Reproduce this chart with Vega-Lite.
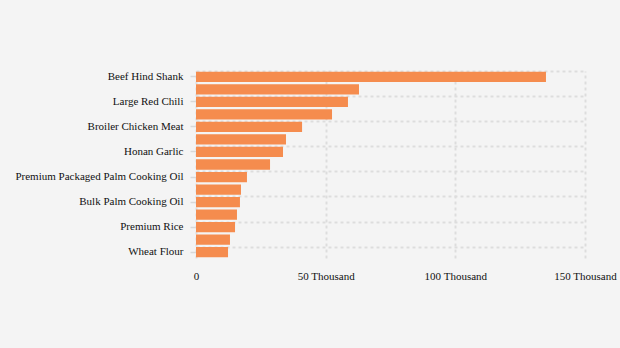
{
  "$schema": "https://vega.github.io/schema/vega-lite/v6.json",
  "autosize": "none",
  "width": 389,
  "height": 187,
  "padding": {"left": 196, "top": 71, "right": 35, "bottom": 90},
  "background": "#f4f4f4",
  "config": {
    "view": {"stroke": null},
    "font": "Liberation Serif",
    "axis": {"labelFont": "Liberation Serif", "labelFontSize": 11, "labelColor": "#111111"}
  },
  "data": {
    "values": [
      {"commodity": "Beef Hind Shank", "price": 134950},
      {"commodity": "Red Cayenne Pepper", "price": 62850},
      {"commodity": "Large Red Chili", "price": 58600},
      {"commodity": "Curly Red Chili", "price": 52450},
      {"commodity": "Broiler Chicken Meat", "price": 40900},
      {"commodity": "Shallot", "price": 34700},
      {"commodity": "Honan Garlic", "price": 33550},
      {"commodity": "Broiler Chicken Egg", "price": 28550},
      {"commodity": "Premium Packaged Palm Cooking Oil", "price": 19650},
      {"commodity": "Simple Packaged Palm Cooking Oil", "price": 17350},
      {"commodity": "Bulk Palm Cooking Oil", "price": 16950},
      {"commodity": "Granulated Sugar", "price": 15800},
      {"commodity": "Premium Rice", "price": 15050},
      {"commodity": "Medium Rice", "price": 13100},
      {"commodity": "Wheat Flour", "price": 12350}
    ]
  },
  "encoding": {
    "x": {
      "field": "price",
      "type": "quantitative",
      "title": null,
      "scale": {"domain": [0, 150000], "nice": false},
      "axis": {
        "values": [0, 50000, 100000, 150000],
        "labelExpr": "datum.value == 0 ? '0' : (datum.value / 1000) + ' Thousand'",
        "domain": false,
        "ticks": false,
        "labelPadding": 12,
        "labelFlush": false,
        "grid": true,
        "gridColor": "#dddddd",
        "gridDash": [3, 3],
        "gridWidth": 2
      }
    }
  },
  "layer": [
    {
      "mark": {"type": "bar", "color": "#f58c4e"},
      "encoding": {
        "y": {
          "field": "commodity",
          "type": "nominal",
          "sort": null,
          "title": null,
          "scale": {"paddingInner": 0.18, "paddingOuter": 0.05},
          "axis": {
            "orient": "left",
            "values": ["Beef Hind Shank", "Large Red Chili", "Broiler Chicken Meat", "Honan Garlic", "Premium Packaged Palm Cooking Oil", "Bulk Palm Cooking Oil", "Premium Rice", "Wheat Flour"],
            "grid": false,
            "domain": false,
            "ticks": true,
            "tickColor": "#d8d8d8",
            "tickSize": 6,
            "tickWidth": 1.5,
            "labelPadding": 7
          }
        }
      }
    },
    {
      "mark": {"type": "bar", "opacity": 0},
      "encoding": {
        "y": {
          "field": "commodity",
          "type": "nominal",
          "sort": null,
          "title": null,
          "axis": {
            "orient": "left",
            "values": ["Beef Hind Shank", "Large Red Chili", "Broiler Chicken Meat", "Honan Garlic", "Premium Packaged Palm Cooking Oil", "Bulk Palm Cooking Oil", "Premium Rice", "Wheat Flour"],
            "bandPosition": 0,
            "grid": true,
            "gridColor": "#dddddd",
            "gridDash": [3, 3],
            "gridWidth": 2,
            "labels": false,
            "ticks": false,
            "domain": false
          }
        }
      }
    }
  ],
  "resolve": {"axis": {"y": "independent"}}
}
